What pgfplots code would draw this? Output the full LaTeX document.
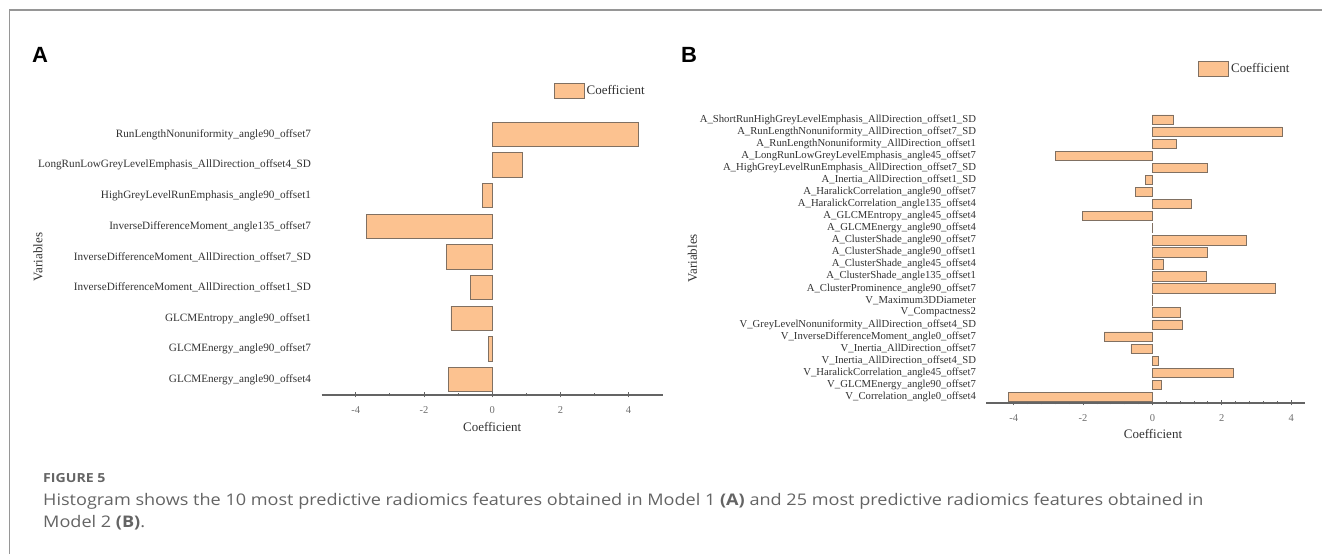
\documentclass[border=0pt]{standalone}
\usepackage{fontspec}
\setmainfont{Liberation Serif}
\newfontfamily\capfont[FakeStretch=1.13]{Open Sans}
\newfontfamily\panelfont{Liberation Sans}
\usepackage{pgfplots}
\pgfplotsset{compat=1.18}

\definecolor{barfill}{RGB}{252,194,144}
\definecolor{baredge}{RGB}{128,112,98}
\definecolor{axisgray}{RGB}{100,100,100}
\definecolor{tickgray}{RGB}{110,110,110}
\definecolor{labelgray}{RGB}{50,50,50}
\definecolor{capgray}{RGB}{100,100,100}
\definecolor{framegray}{RGB}{150,150,150}

\pgfplotsset{
  coefbars/.style={
    scale only axis,
    axis lines*=left,
    x axis line style={draw=axisgray, line width=1.1pt},
    y axis line style={draw=none},
    ytick style={draw=none},
    xtick style={draw=axisgray, line width=0.9pt},
    tick align=center,
    major tick length=5pt,
    minor tick length=3pt,
    xtick={-4,-2,0,2,4},
    xticklabels={-4,-2,0,2,4},
    xticklabel style={font=\fontsize{10.5}{10.5}\selectfont, text=tickgray, anchor=center, yshift=-13pt},
    every axis x label/.style={font=\fontsize{13}{13}\selectfont, text=labelgray, anchor=center},
    every axis y label/.style={font=\fontsize{13}{13}\selectfont, text=labelgray, anchor=center, rotate=90},
    xlabel={Coefficient},
    ylabel={Variables},
    clip=false,
    legend style={draw=none, fill=none, inner sep=0pt, font=\fontsize{13}{13}\selectfont, text=labelgray},
    legend image code/.code={
      \draw[fill=barfill, draw=baredge, line width=0.8pt] (0pt,-7.5pt) rectangle (30pt,7.5pt);
    },
  },
  coefplot/.style={xbar, fill=barfill, draw=baredge, line width=0.8pt},
}

\begin{document}
\begin{tikzpicture}
\useasboundingbox (0,0) rectangle (1322pt,554pt);

% outer frame
\draw[framegray, line width=1.3pt] (9.5pt,0pt) -- (9.5pt,544pt) -- (1322pt,544pt);

% panel letters
\node[anchor=base west, inner sep=0pt, font=\panelfont\bfseries\fontsize{22}{22}\selectfont] at (32pt,491pt) {A};
\node[anchor=base west, inner sep=0pt, font=\panelfont\bfseries\fontsize{22}{22}\selectfont] at (681pt,491pt) {B};

% Model 1
\begin{axis}[coefbars,
  at={(321.7pt,159pt)}, anchor=south west,
  width=341pt, height=276pt,
  xmin=-5, xmax=5, ymin=0.5, ymax=9.5,
  minor x tick num=1,
  ytick={1,...,9},
  yticklabels={
    GLCMEnergy\_angle90\_offset4,
    GLCMEnergy\_angle90\_offset7,
    GLCMEntropy\_angle90\_offset1,
    InverseDifferenceMoment\_AllDirection\_offset1\_SD,
    InverseDifferenceMoment\_AllDirection\_offset7\_SD,
    InverseDifferenceMoment\_angle135\_offset7,
    HighGreyLevelRunEmphasis\_angle90\_offset1,
    LongRunLowGreyLevelEmphasis\_AllDirection\_offset4\_SD,
    RunLengthNonuniformity\_angle90\_offset7},
  yticklabel style={font=\fontsize{11.2}{12}\selectfont, text=labelgray, anchor=east, inner sep=0pt, xshift=-8pt},
  bar width=0.79,
  x label style={at={(axis description cs:0.5,0)}, yshift=-31.7pt},
  y label style={at={(axis description cs:-0.832,0.5)}},
  legend style={at={(rel axis cs:0.68,1.101)}, anchor=west},
]
\addplot[coefplot] coordinates {
  (-1.27,1) (-0.10,2) (-1.21,3) (-0.63,4) (-1.33,5)
  (-3.70,6) (-0.28,7) (0.88,8) (4.28,9)
};
\legend{Coefficient}
\end{axis}

% Model 2
\begin{axis}[coefbars,
  at={(986pt,151pt)}, anchor=south west,
  width=319pt, height=289.4pt,
  xmin=-4.8, xmax=4.4, ymin=0.5, ymax=24.5,
  minor x tick num=4,
  ytick={1,...,24},
  yticklabels={
    V\_Correlation\_angle0\_offset4,
    V\_GLCMEnergy\_angle90\_offset7,
    V\_HaralickCorrelation\_angle45\_offset7,
    V\_Inertia\_AllDirection\_offset4\_SD,
    V\_Inertia\_AllDirection\_offset7,
    V\_InverseDifferenceMoment\_angle0\_offset7,
    V\_GreyLevelNonuniformity\_AllDirection\_offset4\_SD,
    V\_Compactness2,
    V\_Maximum3DDiameter,
    A\_ClusterProminence\_angle90\_offset7,
    A\_ClusterShade\_angle135\_offset1,
    A\_ClusterShade\_angle45\_offset4,
    A\_ClusterShade\_angle90\_offset1,
    A\_ClusterShade\_angle90\_offset7,
    A\_GLCMEnergy\_angle90\_offset4,
    A\_GLCMEntropy\_angle45\_offset4,
    A\_HaralickCorrelation\_angle135\_offset4,
    A\_HaralickCorrelation\_angle90\_offset7,
    A\_Inertia\_AllDirection\_offset1\_SD,
    A\_HighGreyLevelRunEmphasis\_AllDirection\_offset7\_SD,
    A\_LongRunLowGreyLevelEmphasis\_angle45\_offset7,
    A\_RunLengthNonuniformity\_AllDirection\_offset1,
    A\_RunLengthNonuniformity\_AllDirection\_offset7\_SD,
    A\_ShortRunHighGreyLevelEmphasis\_AllDirection\_offset1\_SD},
  yticklabel style={font=\fontsize{10.7}{11}\selectfont, text=labelgray, anchor=east, inner sep=0pt, xshift=-7.3pt},
  bar width=0.78,
  x label style={at={(axis description cs:0.5235,0)}, yshift=-31pt},
  y label style={at={(axis description cs:-0.92,0.5)}},
  legend style={at={(rel axis cs:0.665,1.156)}, anchor=west},
]
\addplot[coefplot] coordinates {
  (-4.14,1) (0.26,2) (2.33,3) (0.17,4) (-0.62,5) (-1.39,6)
  (0.85,7) (0.80,8) (0.01,9) (3.56,10) (1.57,11) (0.33,12)
  (1.59,13) (2.72,14) (0.01,15) (-2.02,16) (1.11,17) (-0.48,18)
  (-0.21,19) (1.59,20) (-2.79,21) (0.70,22) (3.74,23) (0.61,24)
};
\legend{Coefficient}
\end{axis}

% caption
\node[anchor=base west, inner sep=0pt, text=capgray, font=\capfont\bfseries\fontsize{12.5}{13}\selectfont] at (43pt,71.7pt) {FIGURE 5};
\node[anchor=base west, inner sep=0pt, text=capgray, font=\capfont\fontsize{16}{16}\selectfont] at (43pt,48.3pt)
  {Histogram shows the 10 most predictive radiomics features obtained in Model 1 \textbf{(A)} and 25 most predictive radiomics features obtained in};
\node[anchor=base west, inner sep=0pt, text=capgray, font=\capfont\fontsize{16}{16}\selectfont] at (43pt,26.7pt)
  {Model 2 \textbf{(B)}.};
\end{tikzpicture}
\end{document}
